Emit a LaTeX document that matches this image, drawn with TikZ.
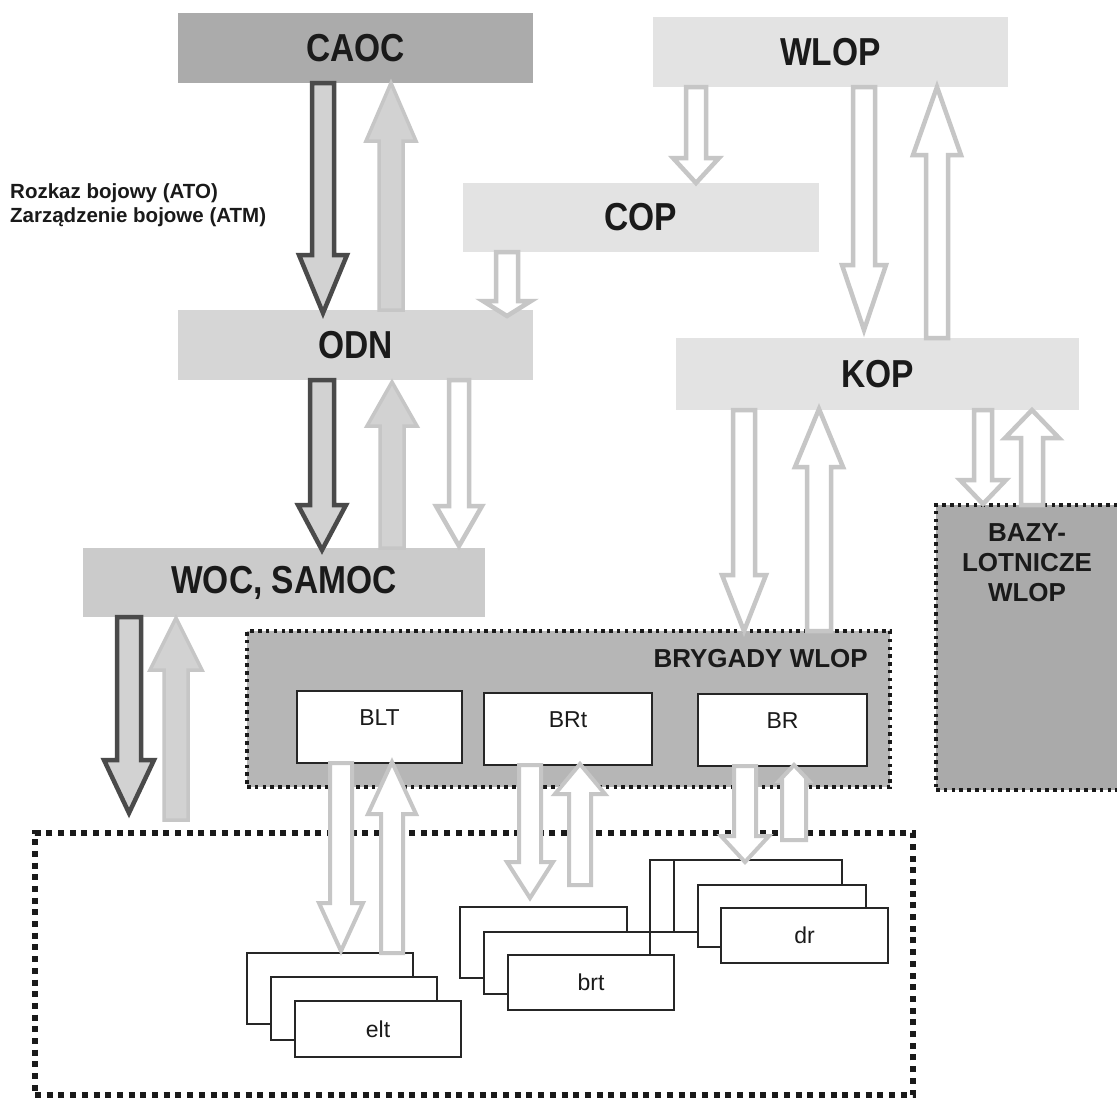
\documentclass[tikz,border=0pt]{standalone}
\usepackage{fontspec}
\setmainfont{Liberation Sans}
\newfontfamily\narrowf[FakeStretch=0.86]{Liberation Sans}
\usetikzlibrary{calc}
\definecolor{cCAOC}{HTML}{ABABAB}
\definecolor{cLight}{HTML}{E3E3E3}
\definecolor{cODN}{HTML}{D6D6D6}
\definecolor{cWOC}{HTML}{CBCBCB}
\definecolor{cBRY}{HTML}{B6B6B6}
\definecolor{cBAZY}{HTML}{AAAAAA}
\definecolor{cArr}{HTML}{C6C6C6}
\definecolor{cArrFill}{HTML}{D2D2D2}
\definecolor{cDark}{HTML}{4A4A4A}
\definecolor{cText}{HTML}{1A1A1A}
\tikzset{
  blk/.style n args={3}{to path={let \p1=(\tikztostart), \p2=(\tikztotarget),
      \p3=(0,{\y2+ifthenelse(\y1>\y2,#3,-#3)}) in
      (\x1-#1,\y1) -- (\x1-#1,\y3) -- (\x1-#2,\y3) -- (\x1,\y2)
      -- (\x1+#2,\y3) -- (\x1+#1,\y3) -- (\x1+#1,\y1) -- cycle}},
  outarrow/.style={draw=cArr, fill=white, line width=4.5pt, line join=miter},
  filledarrow/.style={draw=cArr, fill=cArrFill, line width=3.5pt, line join=miter},
  darkarrow/.style={draw=cDark, fill=cArrFill, line width=4.5pt, line join=miter},
  mainbox/.style={inner sep=0pt, outer sep=0pt, anchor=north west, text=cText,
      font=\narrowf\bfseries\fontsize{39}{44}\selectfont},
  dotbox/.style={inner sep=0pt, outer sep=0pt, anchor=north west, draw=cText,
      line width=3.5pt, dash pattern=on 3.5pt off 4.3pt},
  bigdot/.style={inner sep=0pt, outer sep=0pt, anchor=north west, draw=cText,
      line width=5.5pt, dash pattern=on 6pt off 5.7pt},
  wbox/.style={inner sep=0pt, outer sep=0pt, anchor=north west, draw=black!85,
      line width=1.3pt, fill=white, text=cText,
      font=\fontsize{23}{27}\selectfont},
  wlabel/.style={inner sep=0pt, text=cText, font=\fontsize{23}{27}\selectfont},
  blabel/.style={inner sep=0pt, text=cText, font=\bfseries\fontsize{26}{30}\selectfont}
}
\begin{document}
\begin{tikzpicture}[x=1pt,y=-1pt]
\useasboundingbox (0,0) rectangle (1117,1100);
\fill[white] (0,0) rectangle (1117,1100);

% containers
\node[bigdot, minimum width=878pt, minimum height=262pt] (big) at (35,833) {};
\node[dotbox, fill=cBRY, minimum width=643pt, minimum height=156pt] (bryg) at (247,631) {};
\node[dotbox, fill=cBAZY, minimum width=190pt, minimum height=285pt] (bazy) at (936,505) {};
\node[blabel, anchor=east] (brygl) at (868,659) {BRYGADY WLOP};
\node[blabel, align=center] (bazyl) at (1027,563) {BAZY-\\LOTNICZE\\WLOP};

% main boxes
\node[mainbox, fill=cCAOC, minimum width=355pt, minimum height=70pt] (caoc) at (178,13) {CAOC};
\node[mainbox, fill=cLight, minimum width=355pt, minimum height=70pt] (wlop) at (653,17) {WLOP};
\node[mainbox, fill=cLight, minimum width=356pt, minimum height=69pt] (cop) at (463,183) {COP};
\node[mainbox, fill=cODN, minimum width=355pt, minimum height=70pt] (odn) at (178,310) {ODN};
\node[mainbox, fill=cLight, minimum width=403pt, minimum height=72pt] (kop) at (676,338) {KOP};
\node[mainbox, fill=cWOC, minimum width=402pt, minimum height=69pt] (woc) at (83,548) {WOC, SAMOC};

\node[anchor=west, align=left, inner sep=0pt, text=cText,
      font=\bfseries\fontsize{20.5}{24}\selectfont] (ato) at (10,205)
      {Rozkaz bojowy (ATO)\\Zarządzenie bojowe (ATM)};

% brigade boxes
\node[wbox, minimum width=165pt, minimum height=72pt] (blt) at (297,691) {};
\node[wlabel] (bltl) at ($(blt.center)+(0,-9)$) {BLT};
\node[wbox, minimum width=168pt, minimum height=72pt] (brt) at (484,693) {};
\node[wlabel] (brtl) at ($(brt.center)+(0,-9)$) {BRt};
\node[wbox, minimum width=169pt, minimum height=72pt] (br) at (698,694) {};
\node[wlabel] (brl) at ($(br.center)+(0,-9)$) {BR};

% stacks
\node[wbox, minimum width=166pt, minimum height=71pt] (eltA) at (247,953) {};
\node[wbox, minimum width=166pt, minimum height=63pt] (eltB) at (271,977) {};
\node[wbox, minimum width=166pt, minimum height=56pt] (eltC) at (295,1001) {elt};
\node[wbox, minimum width=167pt, minimum height=71pt] (brtA) at (460,907) {};
\node[wbox, minimum width=166pt, minimum height=62pt] (brtB) at (484,932) {};
\node[wbox, minimum width=166pt, minimum height=55pt] (brtC) at (508,955) {brt};
\node[wbox, minimum width=168pt, minimum height=72pt] (drA) at (650,860) {};
\node[wbox, minimum width=168pt, minimum height=72pt] (drB) at (674,860) {};
\node[wbox, minimum width=168pt, minimum height=62pt] (drC) at (698,885) {};
\node[wbox, minimum width=167pt, minimum height=55pt] (drD) at (721,908) {dr};

% free ends
\coordinate (wocdown) at ($(big.north west)+(94,-20)$);
\coordinate (wocup) at ($(big.north west)+(141,-13)$);
\coordinate (brtup) at ($(brtA.north west)+(120,-22)$);
\coordinate (drup) at ($(drB.north west)+(120,-20)$);

% arrows upper part
\draw[darkarrow, blk={11pt}{24pt}{58pt}] ($(caoc.south west)+(145,0)$) to ($(odn.north)+(0,3)$);
\draw[filledarrow, blk={12pt}{25pt}{58pt}] ($(odn.north west)+(213,0)$) to (caoc.south);
\draw[outarrow, blk={10pt}{23pt}{25pt}] ($(wlop.south west)+(43,0)$) to (cop.north);
\draw[outarrow, blk={11pt}{24pt}{15pt}] ($(cop.south west)+(44,0)$) to ($(odn.north)+(0,6)$);
\draw[outarrow, blk={11pt}{22pt}{65pt}] ($(wlop.south west)+(211,0)$) to ($(kop.north)+(0,-8)$);
\draw[outarrow, blk={11pt}{24pt}{68pt}] ($(kop.north west)+(261,0)$) to (wlop.south);
\draw[darkarrow, blk={12pt}{24pt}{45pt}] ($(odn.south west)+(144,0)$) to ($(woc.north)+(0,2)$);
\draw[filledarrow, blk={12pt}{25pt}{44pt}] ($(woc.north west)+(309,0)$) to ($(odn.south)+(0,2)$);
\draw[outarrow, blk={10pt}{23pt}{40pt}] ($(odn.south west)+(281,0)$) to ($(woc.north)+(0,-2)$);
\draw[outarrow, blk={11pt}{22pt}{56pt}] ($(kop.south west)+(68,0)$) to (bryg.north);
\draw[outarrow, blk={12pt}{24pt}{58pt}] ($(bryg.north west)+(572,0)$) to ($(kop.south)+(0,-1)$);
\draw[outarrow, blk={9pt}{23pt}{24pt}] ($(kop.south west)+(307,0)$) to ($(bazy.north)+(0,-1)$);
\draw[outarrow, blk={11pt}{27pt}{28pt}] ($(bazy.north west)+(96,0)$) to (kop.south);

% arrows from WOC
\draw[darkarrow, blk={12pt}{25pt}{53pt}] ($(woc.south west)+(46,0)$) to (wocdown);
\draw[filledarrow, blk={12pt}{26pt}{52pt}] (wocup) to ($(woc.south)+(0,1)$);

% brigade arrows
\draw[outarrow, line width=4pt, blk={11pt}{22pt}{48pt}] ($(blt.south west)+(44,0)$) to ($(eltA.north)+(0,-2)$);
\draw[outarrow, line width=4pt, blk={11pt}{24pt}{52pt}] ($(eltA.north west)+(145,0)$) to ($(blt.south)+(0,-1)$);
\draw[outarrow, line width=4pt, blk={11pt}{23pt}{36pt}] ($(brt.south west)+(46,0)$) to ($(brtA.north)+(0,-9)$);
\draw[outarrow, line width=4pt, blk={11pt}{25pt}{30pt}] (brtup) to ($(brt.south)+(0,-1)$);
\draw[outarrow, line width=4pt, blk={11pt}{24pt}{26pt}] ($(br.south west)+(47,0)$) to ($(drA.north)+(0,2)$);
\draw[outarrow, line width=4pt, blk={12pt}{15pt}{16pt}] (drup) to ($(br.south)+(0,-1)$);
\end{tikzpicture}
\end{document}
